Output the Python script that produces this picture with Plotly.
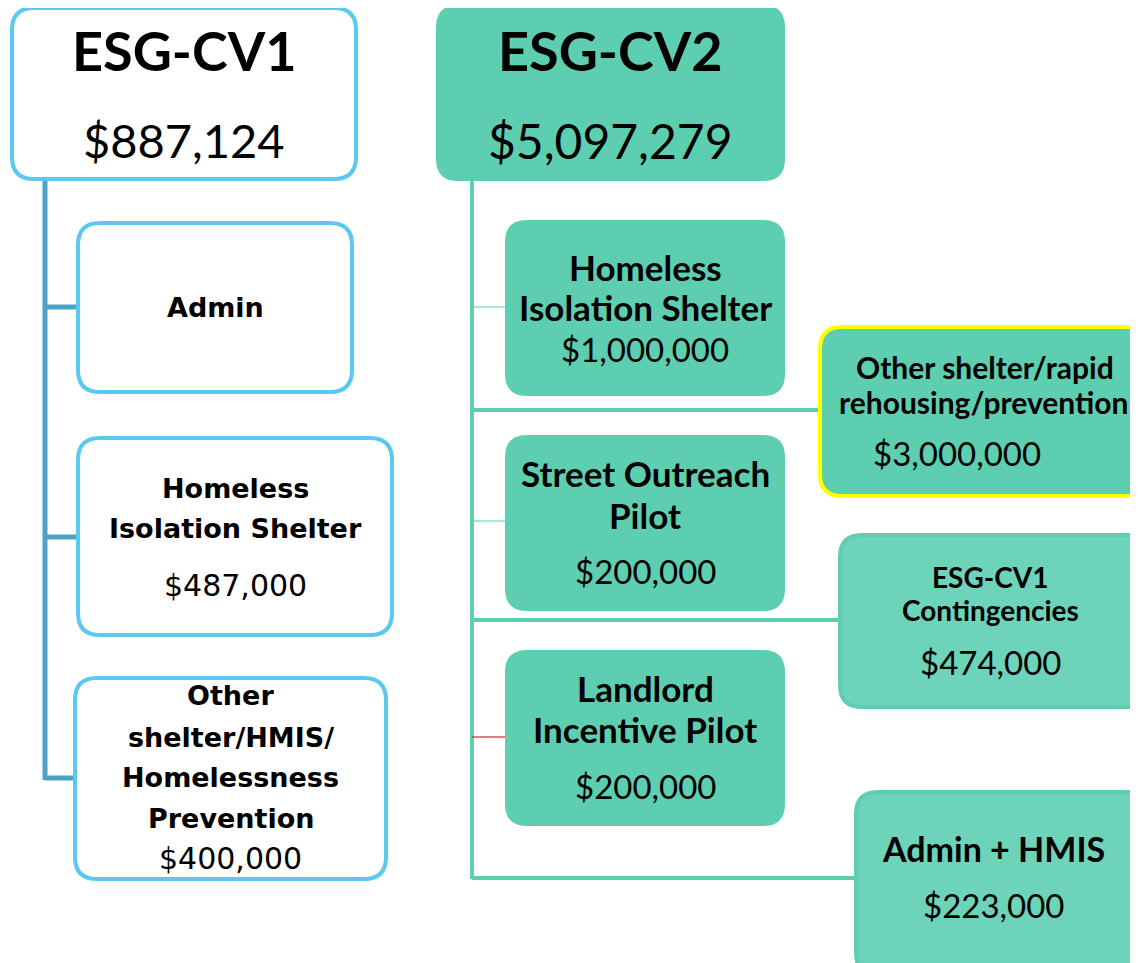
import plotly.graph_objects as go

# ---- data ----
fund_names = ["ESG-CV1", "ESG-CV2"]
fund_totals = [887124, 5097279]

cv1_items = ["Admin", "Homeless\nIsolation Shelter", "Other\nshelter/HMIS/\nHomelessness\nPrevention"]
cv1_amounts = [None, 487000, 400000]

cv2_items = ["Homeless\nIsolation Shelter", "Street Outreach\nPilot", "Landlord\nIncentive Pilot"]
cv2_amounts = [1000000, 200000, 200000]

cv2_side_items = ["Other shelter/rapid\nrehousing/prevention", "ESG-CV1\nContingencies", "Admin + HMIS"]
cv2_side_amounts = [3000000, 474000, 223000]

# ---- style ----
BLUE = '#5BC8EF'
BLUE_LINE = '#4AA3C4'
GREEN = '#5DCFB0'
GREEN_LIGHT = '#6DD3B9'
YELLOW = '#FFFF00'
CAL = 'Lato'
VER = 'DejaVu Sans'


def money(v):
    return f"${v:,}"


def rrect(x0, y0, x1, y1, r):
    return (f"M {x0+r},{y0} L {x1-r},{y0} Q {x1},{y0} {x1},{y0+r} "
            f"L {x1},{y1-r} Q {x1},{y1} {x1-r},{y1} L {x0+r},{y1} "
            f"Q {x0},{y1} {x0},{y1-r} L {x0},{y0+r} Q {x0},{y0} {x0+r},{y0} Z")


shapes, annots = [], []


def line(x0, y0, x1, y1, color, width):
    shapes.append(dict(type='line', x0=x0, y0=y0, x1=x1, y1=y1, xref='x', yref='y',
                       line=dict(color=color, width=width), layer='below'))


def box(x0, y0, x1, y1, fill, border=None, bw=4, r=20):
    shapes.append(dict(type='path', path=rrect(x0, y0, x1, y1, r), xref='x', yref='y',
                       fillcolor=fill,
                       line=dict(color=border or fill, width=bw if border else 0),
                       layer='above'))


def text(x, y, s, size, family, bold=False):
    annots.append(dict(x=x, y=y, xref='x', yref='y', showarrow=False,
                       text=f"<b>{s}</b>" if bold else s,
                       font=dict(size=size, family=family, color='black'),
                       xanchor='center', yanchor='middle'))


def label(x, ys, name, amount, size, family, amt_size, amt_y=None):
    for s, y in zip(name.split("\n"), ys):
        text(x, y, s, size, family, bold=True)
    if amount is not None:
        text(x, amt_y, money(amount), amt_size, family)


# ---- connectors ----
line(45, 180, 45, 780, BLUE_LINE, 5)
for y, xe in [(307, 78), (537, 78), (778, 75)]:
    line(45, y, xe, y, BLUE_LINE, 5)

line(472, 181, 472, 879, GREEN, 4)
line(472, 307, 505, 307, GREEN, 1)
line(472, 521, 505, 521, GREEN, 1)
line(472, 737, 505, 737, '#C00000', 1)
line(472, 410, 820, 410, GREEN, 4)
line(472, 620, 840, 620, GREEN, 4)
line(472, 878, 856, 878, GREEN, 4)

# ---- ESG-CV1 column ----
box(12, 8, 356, 179, 'white', BLUE, 4, 22)
text(184, 50, f"<b>{fund_names[0]}</b>", 54, CAL)
text(184, 140, money(fund_totals[0]), 47, CAL)

cv1_boxes = [(78, 223, 352, 392), (78, 438, 392, 635), (75, 678, 386, 879)]
cv1_lines = [[307], [488, 528], [695, 737, 777, 818]]
cv1_amt_y = [None, 585, 858]
for (x0, y0, x1, y1), ys, ay, nm, am in zip(cv1_boxes, cv1_lines, cv1_amt_y, cv1_items, cv1_amounts):
    box(x0, y0, x1, y1, 'white', BLUE, 4, 22)
    label((x0 + x1) / 2, ys, nm, am, 27, VER, 30, ay)

# ---- ESG-CV2 column ----
box(436, 5, 785, 181, GREEN, None, 0, 22)
text(610, 50, f"<b>{fund_names[1]}</b>", 54, CAL)
text(610, 140, money(fund_totals[1]), 48, CAL)

cv2_boxes = [(505, 220, 785, 396), (505, 435, 785, 611), (505, 650, 785, 826)]
cv2_lines = [[267, 307], [473, 515], [688, 729]]
cv2_amt_y = [349, 571, 786]
for (x0, y0, x1, y1), ys, ay, nm, am in zip(cv2_boxes, cv2_lines, cv2_amt_y, cv2_items, cv2_amounts):
    box(x0, y0, x1, y1, GREEN, None, 0, 22)
    label((x0 + x1) / 2, ys, nm, am, 35, CAL, 33, ay)

# side boxes
box(820, 327, 1152, 496, GREEN, YELLOW, 4, 22)
box(840, 535, 1152, 707, GREEN_LIGHT, GREEN, 4, 22)
box(856, 792, 1152, 975, GREEN_LIGHT, GREEN, 4, 22)

nm = cv2_side_items[0].split("\n")
text(985, 367, nm[0], 30, CAL, bold=True)
text(984, 402, nm[1], 30, CAL, bold=True)
text(957, 453, money(cv2_side_amounts[0]), 33, CAL)

nm = cv2_side_items[1].split("\n")
text(990, 577, nm[0], 28, CAL, bold=True)
text(990, 610, nm[1], 28, CAL, bold=True)
text(990, 662, money(cv2_side_amounts[1]), 33, CAL)

text(993, 848, cv2_side_items[2], 34, CAL, bold=True)
text(993, 905, money(cv2_side_amounts[2]), 33, CAL)

# the page body has an 8px margin, so the plot starts at (8, 8) on screen
fig = go.Figure()
fig.update_layout(
    width=1130, height=955,
    margin=dict(l=0, r=0, t=0, b=0),
    paper_bgcolor='white', plot_bgcolor='white',
    xaxis=dict(range=[8, 1138], showgrid=False, zeroline=False, showticklabels=False, fixedrange=True),
    yaxis=dict(range=[963, 8], showgrid=False, zeroline=False, showticklabels=False, fixedrange=True),
    shapes=shapes, annotations=annots, showlegend=False,
)
fig.write_html("out.html")
